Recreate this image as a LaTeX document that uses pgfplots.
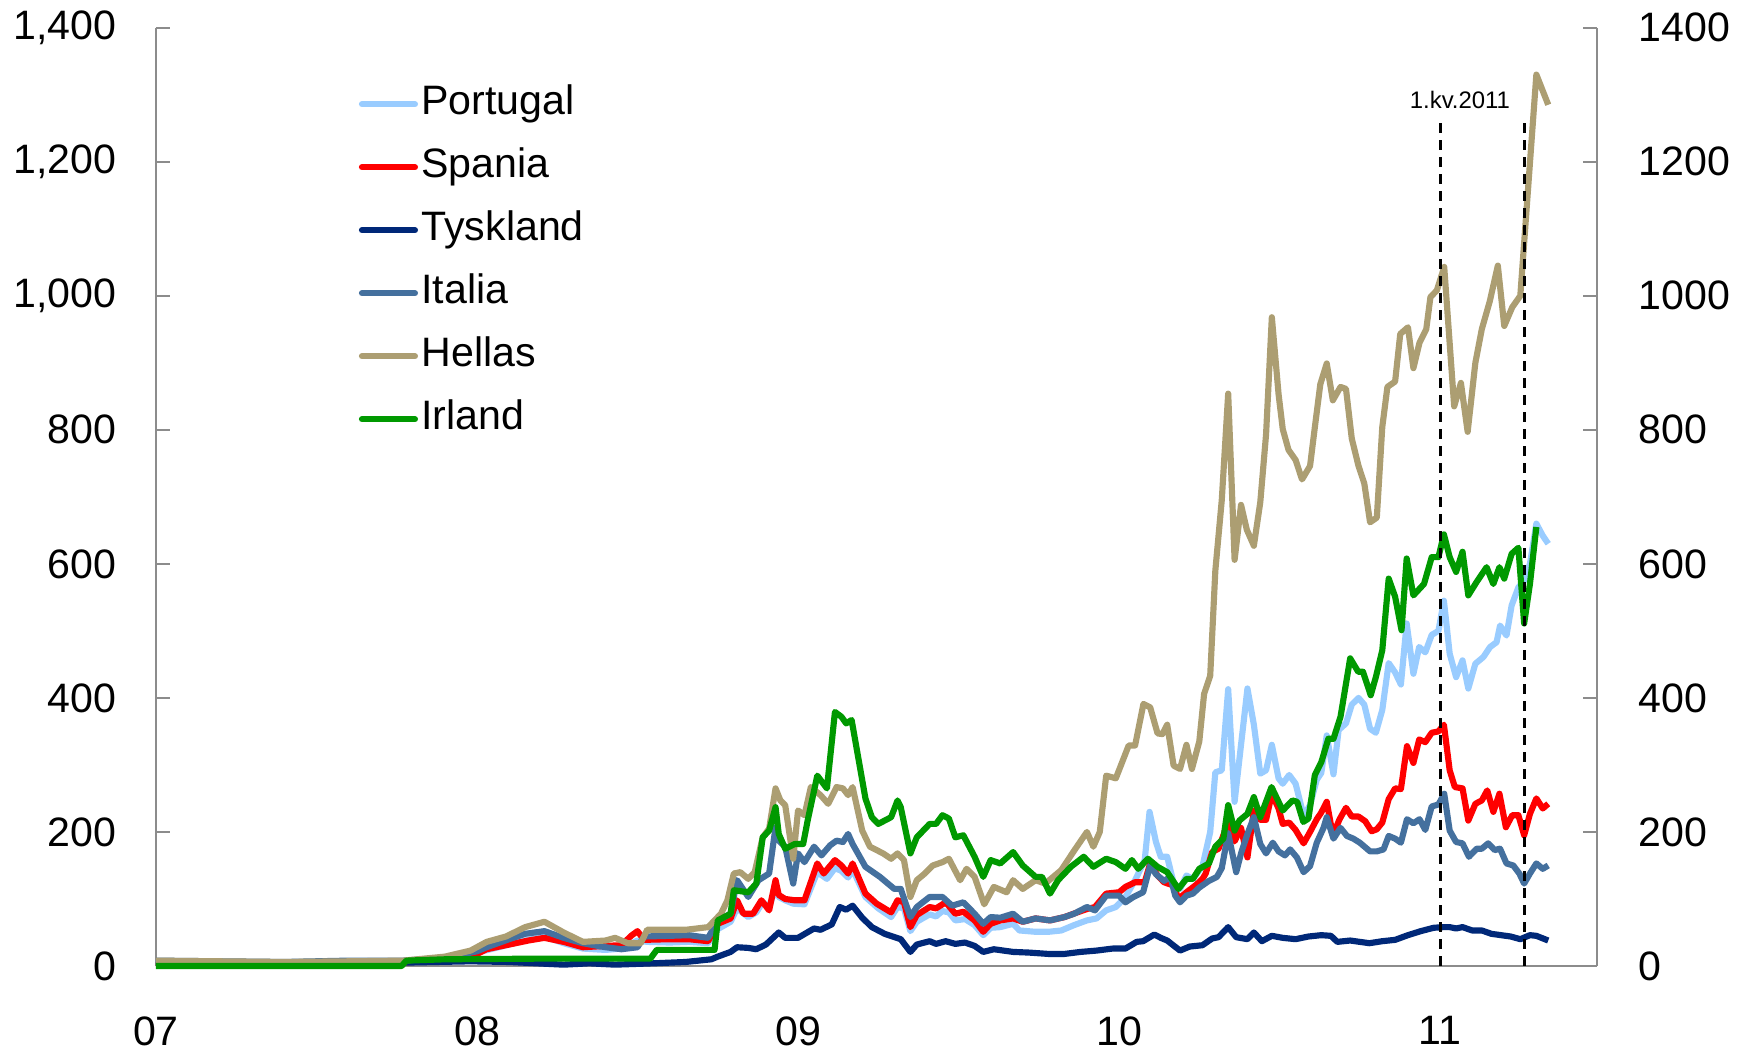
\documentclass[border=0pt]{standalone}
\usepackage{pgfplots}
\pgfplotsset{compat=1.18}
\usepackage{fontspec}
\setmainfont{Liberation Sans}

\definecolor{cPT}{RGB}{153,204,255}
\definecolor{cES}{RGB}{255,0,0}
\definecolor{cDE}{RGB}{0,40,120}
\definecolor{cIT}{RGB}{68,112,158}
\definecolor{cGR}{RGB}{172,158,114}
\definecolor{cIE}{RGB}{0,153,0}
\definecolor{axgray}{RGB}{140,140,140}

\newcommand{\tickfont}{\fontsize{11.7}{14}\selectfont}

\pgfplotsset{
  common/.style={
    width=144.1mm, height=93.83mm, scale only axis,
    at={(0,0)}, anchor=south west,
    xmin=2007, xmax=2011.489, ymin=0, ymax=1400,
    axis line style={draw=axgray, line width=0.6pt},
    tick align=inside, major tick length=1.4mm,
    ytick={0,200,...,1400},
    ytick style={draw=axgray, line width=0.6pt},
    ticklabel style={font=\tickfont},
    clip=false,
  },
}

\begin{document}
\begin{tikzpicture}
\useasboundingbox (-15.6mm,-8.73mm) rectangle (159.4mm,96.6mm);

\begin{axis}[
  common,
  axis x line*=bottom, axis y line*=left,
  xtick={2007,2008,2009,2010,2011},
  xticklabels={07,08,09,10,11},
  xtick style={draw=none},
  xticklabel style={yshift=-3.8mm},
  yticklabels={0,200,400,600,800,{1,000},{1,200},{1,400}},
  yticklabel style={xshift=-2.7mm},
  every axis plot/.append style={line width=1.75pt, line join=round},
  legend image code/.code={\draw[#1, line width=1.75pt, line cap=round] (0mm,0mm) -- (5.3mm,0mm);},
  legend cell align=left,
  legend style={at={(0.133,0.948)}, anchor=north west, draw=none, fill=none,
    font=\tickfont, row sep=2.3mm,
    nodes={inner xsep=0.35mm, inner ysep=0pt, text height=3.0mm, text depth=1.0mm}},
]

% Portugal
\addplot[cPT] coordinates {
(2007.00,5) (2007.20,5) (2007.40,4) (2007.60,6) (2007.77,7) (2007.90,12)
(2008.00,20) (2008.05,26) (2008.10,32) (2008.15,38) (2008.21,44) (2008.27,34)
(2008.33,26) (2008.40,24) (2008.45,26) (2008.50,38) (2008.53,36) (2008.60,35)
(2008.66,36) (2008.72,34) (2008.75,55) (2008.79,66) (2008.81,86) (2008.845,73)
(2008.87,80) (2008.89,95) (2008.91,88) (2008.93,116) (2008.94,103) (2008.96,98)
(2008.985,93) (2009.02,92) (2009.06,140) (2009.09,130) (2009.115,146) (2009.135,142)
(2009.156,132) (2009.17,144) (2009.21,103) (2009.25,86) (2009.29,73) (2009.31,88)
(2009.33,86) (2009.35,52) (2009.37,66) (2009.41,77) (2009.43,74) (2009.45,82)
(2009.47,80) (2009.49,68) (2009.52,70) (2009.55,61) (2009.577,46) (2009.60,57)
(2009.63,58) (2009.67,63) (2009.69,53) (2009.74,51) (2009.78,51) (2009.82,53)
(2009.86,61) (2009.90,68) (2009.93,71) (2009.96,83) (2009.99,88) (2010.02,103)
(2010.05,128) (2010.08,158) (2010.095,230) (2010.115,185) (2010.13,163) (2010.15,163)
(2010.17,124) (2010.19,115) (2010.21,135) (2010.23,130) (2010.26,149) (2010.284,200)
(2010.30,289) (2010.32,292) (2010.34,413) (2010.36,245) (2010.38,330) (2010.40,414)
(2010.42,360) (2010.44,287) (2010.458,292) (2010.476,330) (2010.497,280) (2010.51,272)
(2010.53,285) (2010.55,272) (2010.575,224) (2010.595,240) (2010.616,278) (2010.63,288)
(2010.647,344) (2010.668,286) (2010.684,352) (2010.707,362) (2010.725,390) (2010.746,400)
(2010.764,390) (2010.782,354) (2010.80,348) (2010.82,382) (2010.84,452) (2010.86,438)
(2010.878,420) (2010.896,511) (2010.917,436) (2010.935,476) (2010.954,468) (2010.974,494)
(2010.995,500) (2011.012,545) (2011.03,466) (2011.05,431) (2011.07,456) (2011.088,414)
(2011.11,451) (2011.135,461) (2011.156,476) (2011.176,483) (2011.187,508) (2011.207,493)
(2011.223,538) (2011.244,565) (2011.262,575) (2011.28,600) (2011.30,660) (2011.32,642)
(2011.337,630)
};
\addlegendentry{Portugal}

% Spania
\addplot[cES] coordinates {
(2007.00,4) (2007.40,3) (2007.77,5) (2007.90,10) (2008.00,18) (2008.03,25)
(2008.10,32) (2008.16,38) (2008.21,42) (2008.27,36) (2008.33,28) (2008.40,30)
(2008.45,31) (2008.48,45) (2008.50,52) (2008.52,39) (2008.60,40) (2008.66,40)
(2008.72,37) (2008.75,63) (2008.79,71) (2008.81,98) (2008.83,78) (2008.86,78)
(2008.886,98) (2008.91,83) (2008.93,128) (2008.94,106) (2008.96,100) (2008.99,98)
(2009.02,98) (2009.06,153) (2009.08,138) (2009.115,158) (2009.135,150) (2009.156,138)
(2009.17,153) (2009.21,108) (2009.245,93) (2009.29,80) (2009.31,98) (2009.33,95)
(2009.35,58) (2009.37,76) (2009.41,88) (2009.43,86) (2009.46,95) (2009.49,78)
(2009.515,81) (2009.55,68) (2009.577,51) (2009.60,63) (2009.63,68) (2009.67,71)
(2009.70,66) (2009.74,71) (2009.785,68) (2009.83,73) (2009.87,80) (2009.90,85)
(2009.925,88) (2009.96,108) (2010.00,110) (2010.02,118) (2010.05,125) (2010.08,125)
(2010.097,153) (2010.12,135) (2010.14,125) (2010.17,120) (2010.185,100) (2010.21,110)
(2010.24,121) (2010.26,130) (2010.27,138) (2010.29,170) (2010.31,175) (2010.34,215)
(2010.36,186) (2010.38,206) (2010.40,162) (2010.42,232) (2010.44,218) (2010.458,218)
(2010.476,257) (2010.497,235) (2010.51,212) (2010.53,214) (2010.55,203) (2010.575,183)
(2010.595,200) (2010.616,219) (2010.63,229) (2010.647,245) (2010.666,195) (2010.687,219)
(2010.707,236) (2010.725,223) (2010.746,223) (2010.767,216) (2010.787,201) (2010.803,204)
(2010.82,214) (2010.84,249) (2010.86,265) (2010.878,264) (2010.897,328) (2010.917,303)
(2010.935,338) (2010.954,334) (2010.974,348) (2010.995,350) (2011.012,360) (2011.03,292)
(2011.046,267) (2011.07,265) (2011.088,217) (2011.11,242) (2011.13,247) (2011.147,262)
(2011.166,230) (2011.185,257) (2011.205,207) (2011.225,225) (2011.244,225) (2011.262,195)
(2011.28,227) (2011.30,250) (2011.32,235) (2011.337,242)
};
\addlegendentry{Spania}

% Tyskland
\addplot[cDE] coordinates {
(2007.00,5) (2007.40,4) (2007.77,5) (2007.98,7) (2008.10,6) (2008.27,2)
(2008.35,4) (2008.43,2) (2008.55,4) (2008.65,6) (2008.73,10) (2008.75,14)
(2008.79,21) (2008.81,28) (2008.845,27) (2008.87,25) (2008.90,32) (2008.94,50)
(2008.96,42) (2009.00,42) (2009.05,56) (2009.07,54) (2009.105,62) (2009.13,88)
(2009.15,84) (2009.17,90) (2009.20,72) (2009.23,58) (2009.27,48) (2009.32,40)
(2009.35,21) (2009.37,32) (2009.41,37) (2009.43,33) (2009.46,37) (2009.49,33)
(2009.52,35) (2009.55,30) (2009.577,21) (2009.61,25) (2009.67,21) (2009.72,20)
(2009.78,18) (2009.83,18) (2009.88,21) (2009.93,23) (2009.98,26) (2010.02,26)
(2010.055,36) (2010.075,37) (2010.11,47) (2010.13,42) (2010.15,38) (2010.19,23)
(2010.22,29) (2010.26,31) (2010.29,41) (2010.31,43) (2010.34,58) (2010.365,43)
(2010.40,40) (2010.42,50) (2010.445,37) (2010.476,45) (2010.51,42) (2010.55,40)
(2010.59,44) (2010.63,46) (2010.66,45) (2010.68,36) (2010.72,38) (2010.78,34)
(2010.82,37) (2010.86,39) (2010.90,46) (2010.94,52) (2010.98,57) (2011.01,58)
(2011.03,58) (2011.05,56) (2011.07,58) (2011.10,53) (2011.13,53) (2011.16,48)
(2011.19,46) (2011.22,44) (2011.25,40) (2011.28,46) (2011.30,45) (2011.337,38)
};
\addlegendentry{Tyskland}

% Italia
\addplot[cIT] coordinates {
(2007.00,8) (2007.40,6) (2007.60,8) (2007.77,8) (2007.90,12) (2008.00,22)
(2008.03,28) (2008.10,40) (2008.15,48) (2008.21,52) (2008.27,42) (2008.33,34)
(2008.40,28) (2008.45,25) (2008.50,28) (2008.52,44) (2008.60,45) (2008.66,46)
(2008.72,42) (2008.75,68) (2008.79,78) (2008.81,128) (2008.845,103) (2008.877,128)
(2008.91,138) (2008.93,207) (2008.94,187) (2008.96,178) (2008.985,123) (2009.00,168)
(2009.02,155) (2009.05,178) (2009.073,165) (2009.10,180) (2009.12,187) (2009.14,185)
(2009.156,197) (2009.17,182) (2009.21,148) (2009.255,133) (2009.30,115) (2009.32,115)
(2009.35,73) (2009.37,88) (2009.41,103) (2009.45,103) (2009.48,90) (2009.515,95)
(2009.55,78) (2009.577,63) (2009.60,73) (2009.63,72) (2009.67,78) (2009.70,66)
(2009.74,71) (2009.785,68) (2009.83,73) (2009.86,78) (2009.90,88) (2009.925,83)
(2009.96,105) (2010.00,105) (2010.02,95) (2010.045,103) (2010.075,110) (2010.097,150)
(2010.115,137) (2010.14,127) (2010.16,133) (2010.175,105) (2010.19,95) (2010.21,105)
(2010.23,108) (2010.25,117) (2010.28,127) (2010.305,133) (2010.32,146) (2010.34,198)
(2010.365,140) (2010.38,168) (2010.40,197) (2010.42,222) (2010.44,182) (2010.458,168)
(2010.479,184) (2010.497,171) (2010.517,165) (2010.533,174) (2010.554,162) (2010.575,140)
(2010.595,149) (2010.616,184) (2010.637,206) (2010.647,222) (2010.668,190) (2010.69,206)
(2010.71,194) (2010.73,190) (2010.75,184) (2010.782,171) (2010.803,171) (2010.824,174)
(2010.84,194) (2010.86,190) (2010.878,184) (2010.897,219) (2010.917,213) (2010.936,219)
(2010.954,203) (2010.974,238) (2010.995,241) (2011.013,257) (2011.03,202) (2011.05,185)
(2011.07,183) (2011.09,163) (2011.114,175) (2011.13,175) (2011.15,183) (2011.17,173)
(2011.187,175) (2011.207,153) (2011.228,150) (2011.247,138) (2011.262,123) (2011.28,138)
(2011.30,153) (2011.32,145) (2011.337,150)
};
\addlegendentry{Italia}

% Hellas
\addplot[cGR] coordinates {
(2007.00,8) (2007.20,7) (2007.40,6) (2007.60,7) (2007.77,8) (2007.90,14)
(2007.98,23) (2008.03,36) (2008.09,44) (2008.15,58) (2008.21,66) (2008.27,50)
(2008.33,36) (2008.40,38) (2008.43,42) (2008.47,34) (2008.51,34) (2008.53,54)
(2008.60,54) (2008.65,54) (2008.72,58) (2008.76,78) (2008.78,98) (2008.80,138)
(2008.82,140) (2008.845,130) (2008.865,140) (2008.89,192) (2008.91,205) (2008.93,265)
(2008.945,247) (2008.96,240) (2008.985,160) (2009.00,232) (2009.02,225) (2009.04,267)
(2009.07,255) (2009.094,242) (2009.12,267) (2009.14,265) (2009.156,255) (2009.17,267)
(2009.20,202) (2009.224,178) (2009.265,168) (2009.29,160) (2009.31,168) (2009.33,158)
(2009.35,103) (2009.37,128) (2009.395,138) (2009.42,150) (2009.45,155) (2009.47,160)
(2009.505,128) (2009.525,145) (2009.55,133) (2009.58,92) (2009.61,118) (2009.65,110)
(2009.67,128) (2009.70,115) (2009.74,128) (2009.77,123) (2009.82,143) (2009.86,172)
(2009.90,200) (2009.92,178) (2009.94,200) (2009.96,284) (2009.99,280) (2010.03,329)
(2010.05,329) (2010.076,391) (2010.097,386) (2010.12,347) (2010.135,346) (2010.15,360)
(2010.17,299) (2010.19,294) (2010.21,330) (2010.227,294) (2010.25,335) (2010.265,406)
(2010.284,433) (2010.30,590) (2010.32,695) (2010.34,854) (2010.36,606) (2010.38,688)
(2010.398,651) (2010.42,627) (2010.44,692) (2010.458,793) (2010.476,968) (2010.497,853)
(2010.51,801) (2010.528,770) (2010.55,755) (2010.57,726) (2010.595,746) (2010.61,804)
(2010.627,868) (2010.647,899) (2010.666,844) (2010.69,864) (2010.707,861) (2010.725,787)
(2010.746,746) (2010.764,720) (2010.782,662) (2010.803,669) (2010.82,804) (2010.836,864)
(2010.86,872) (2010.876,943) (2010.90,953) (2010.917,892) (2010.936,930) (2010.957,950)
(2010.97,998) (2010.99,1008) (2011.013,1043) (2011.044,835) (2011.065,870) (2011.086,797)
(2011.11,900) (2011.13,950) (2011.155,992) (2011.18,1045) (2011.20,955) (2011.225,983)
(2011.25,1000) (2011.30,1330) (2011.337,1285)
};
\addlegendentry{Hellas}

% Irland
\addplot[cIE] coordinates {
(2007.00,0) (2007.765,0) (2007.78,8) (2007.90,10) (2008.20,11) (2008.54,11)
(2008.56,24) (2008.74,24) (2008.75,68) (2008.79,78) (2008.80,113) (2008.845,110)
(2008.87,123) (2008.89,192) (2008.91,202) (2008.93,237) (2008.94,197) (2008.96,175)
(2008.99,182) (2009.016,182) (2009.03,217) (2009.06,284) (2009.09,265) (2009.115,379)
(2009.135,372) (2009.15,362) (2009.167,367) (2009.21,250) (2009.23,222) (2009.25,212)
(2009.29,222) (2009.31,247) (2009.32,237) (2009.35,168) (2009.37,192) (2009.41,212)
(2009.43,212) (2009.45,225) (2009.47,220) (2009.49,192) (2009.515,195) (2009.55,163)
(2009.577,133) (2009.60,158) (2009.63,153) (2009.67,170) (2009.70,150) (2009.74,133)
(2009.76,133) (2009.785,108) (2009.81,128) (2009.85,148) (2009.89,163) (2009.92,148)
(2009.96,160) (2009.99,155) (2010.02,145) (2010.04,158) (2010.06,145) (2010.09,160)
(2010.12,148) (2010.15,140) (2010.185,115) (2010.21,130) (2010.23,130) (2010.25,145)
(2010.28,153) (2010.30,178) (2010.325,190) (2010.34,240) (2010.36,202) (2010.375,217)
(2010.40,227) (2010.42,252) (2010.44,222) (2010.475,267) (2010.51,232) (2010.54,247)
(2010.555,245) (2010.574,215) (2010.59,220) (2010.61,285) (2010.63,304) (2010.652,339)
(2010.668,339) (2010.69,372) (2010.72,459) (2010.745,439) (2010.76,439) (2010.784,404)
(2010.80,431) (2010.82,471) (2010.84,578) (2010.86,551) (2010.88,501) (2010.896,608)
(2010.917,553) (2010.95,570) (2010.974,610) (2010.995,610) (2011.012,644) (2011.03,610)
(2011.05,588) (2011.07,618) (2011.088,553) (2011.114,573) (2011.145,595) (2011.166,570)
(2011.185,595) (2011.20,578) (2011.223,615) (2011.244,624) (2011.262,511) (2011.28,570)
(2011.30,655)
};
\addlegendentry{Irland}
\end{axis}

\begin{axis}[
  common,
  axis y line*=right, axis x line=none,
  yticklabels={0,200,400,600,800,1000,1200,1400},
  yticklabel style={xshift=2.9mm},
]
\addplot[black, line width=0.85pt, dash pattern=on 1mm off 0.7mm] coordinates {(2011.0,0) (2011.0,1260)};
\addplot[black, line width=0.85pt, dash pattern=on 1mm off 0.7mm] coordinates {(2011.262,0) (2011.262,1260)};
\node[font=\fontsize{6.8}{8}\selectfont] at (axis cs:2011.062,1292) {1.kv.2011};
\end{axis}
\end{tikzpicture}
\end{document}
